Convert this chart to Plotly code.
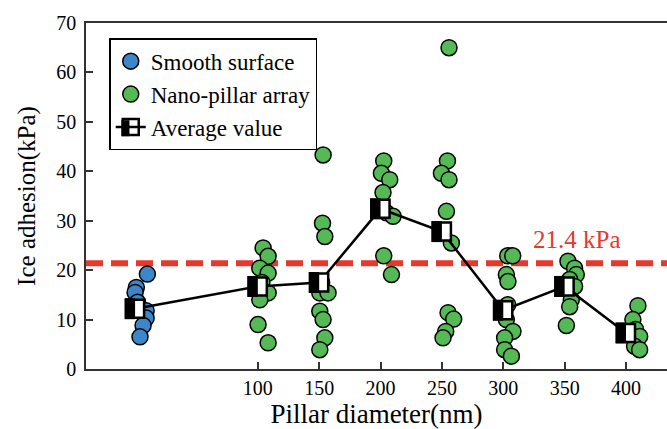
import plotly.graph_objects as go

# ---------------- data ----------------
smooth_x = [10, 1, 0, 2, 9, 9, 6.5, 4]
smooth_y = [19.2, 16.5, 15.5, 13.5, 11.8, 10.3, 8.8, 6.5]

nano_x_100 = [104.3, 108.4, 101.6, 108.4, 103.3, 108.4, 101.6, 100.2, 108.4]
nano_y_100 = [24.5, 22.8, 20.4, 19.4, 17.5, 15.4, 14.0, 9.0, 5.3]
nano_x_150 = [153.2, 152.7, 154.6, 152.0, 150.5, 157.2, 150.5, 153.2, 154.6, 150.5]
nano_y_150 = [43.3, 29.5, 26.8, 17.5, 15.4, 15.4, 11.7, 10.0, 6.3, 3.9]
nano_x_200 = [202.6, 200.7, 207.5, 202.0, 204.8, 210.2, 202.6, 208.9]
nano_y_200 = [42.1, 39.6, 38.3, 35.7, 31.6, 30.9, 22.9, 19.1]
nano_x_250 = [255.8, 254.5, 249.6, 255.8, 253.7, 257.7, 255.0, 259.6, 253.1, 250.9]
nano_y_250 = [65.0, 42.1, 39.6, 38.3, 31.9, 25.5, 11.4, 10.1, 7.6, 6.3]
nano_x_300 = [303.6, 307.7, 302.5, 303.8, 303.6, 302.5, 307.9, 301.1, 301.1, 306.6]
nano_y_300 = [22.9, 22.9, 19.1, 17.7, 13.0, 10.0, 7.6, 6.3, 3.9, 2.6]
nano_x_350 = [352.7, 358.1, 359.5, 354.1, 358.1, 355.4, 354.1, 351.4]
nano_y_350 = [21.8, 20.4, 19.1, 18.1, 16.7, 14.0, 12.6, 8.8]
nano_x_400 = [409.7, 405.6, 407.8, 411.1, 407.0, 411.1]
nano_y_400 = [12.8, 10.0, 8.0, 6.6, 4.6, 3.9]

avg_x = [0, 100, 150, 200, 250, 300, 350, 400]
avg_y = [12.2, 16.7, 17.5, 32.4, 27.8, 11.9, 16.7, 7.3]

threshold = 21.4
x_tick_vals = [100, 150, 200, 250, 300, 350, 400]
y_tick_vals = [0, 10, 20, 30, 40, 50, 60, 70]

# ---------------- styles ----------------
FONT = "Times New Roman, Liberation Serif, DejaVu Serif, serif"
BLUE = "#3b87c9"
GREEN = "#55b955"
RED = "#e5392c"
W, H = 667, 429
LEG_FONT = 23

nano_x = nano_x_100 + nano_x_150 + nano_x_200 + nano_x_250 + nano_x_300 + nano_x_350 + nano_x_400
nano_y = nano_y_100 + nano_y_150 + nano_y_200 + nano_y_250 + nano_y_300 + nano_y_350 + nano_y_400

fig = go.Figure()

fig.add_trace(go.Scatter(
    x=smooth_x, y=smooth_y, mode="markers", name="Smooth surface",
    marker=dict(size=16, color=BLUE, line=dict(color="black", width=1.5)),
))
fig.add_trace(go.Scatter(
    x=nano_x, y=nano_y, mode="markers", name="Nano-pillar array",
    marker=dict(size=16, color=GREEN, line=dict(color="black", width=1.5)),
))
fig.add_trace(go.Scatter(
    x=avg_x, y=avg_y, mode="lines+markers", name="Average value", showlegend=False,
    line=dict(color="black", width=2.5),
    marker=dict(symbol="square", size=18, color="white", line=dict(color="black", width=2.5)),
))
# legend entry for the average markers (transparent fill so the half-black swatch shows)
fig.add_trace(go.Scatter(
    x=[None], y=[None], mode="lines+markers", name="Average value",
    line=dict(color="black", width=2.5),
    marker=dict(symbol="square", size=16, color="rgba(255,255,255,0)", line=dict(color="black", width=2.5)),
))

# left black half of each average marker
for xv, yv in zip(avg_x, avg_y):
    fig.add_shape(type="rect", xref="x", yref="y",
                  xsizemode="pixel", ysizemode="pixel",
                  xanchor=xv, yanchor=yv, x0=-10.5, x1=0, y0=-10.5, y1=10.5,
                  fillcolor="black", line=dict(width=0), layer="above")

# half-black / half-white swatch under the legend symbol
leg_x = 0.04
leg_y = 0.956
leg_sym_x = 0.0748
leg_sym_y = 0.696
fig.add_shape(type="rect", xref="paper", yref="paper", xsizemode="pixel", ysizemode="pixel",
              xanchor=leg_sym_x, yanchor=leg_sym_y, x0=0, x1=8, y0=-8, y1=8,
              fillcolor="white", line=dict(width=0), layer="above")
fig.add_shape(type="rect", xref="paper", yref="paper", xsizemode="pixel", ysizemode="pixel",
              xanchor=leg_sym_x, yanchor=leg_sym_y, x0=-8, x1=0, y0=-8, y1=8,
              fillcolor="black", line=dict(width=0), layer="above")

# threshold line
fig.add_shape(type="line", xref="paper", yref="y", x0=0, x1=1, y0=threshold, y1=threshold,
              line=dict(color=RED, width=6, dash="17px,8px"), layer="below")
fig.add_annotation(x=360, y=threshold, xref="x", yref="y", text=f"{threshold} kPa",
                   showarrow=False, yanchor="bottom", yshift=8,
                   font=dict(family=FONT, size=25, color=RED))

fig.update_layout(
    width=W, height=H,
    margin=dict(l=86, r=0, t=23, b=60),
    plot_bgcolor="white", paper_bgcolor="white",
    font=dict(family=FONT, size=20, color="black"),
    showlegend=True,
    legend=dict(x=leg_x, y=leg_y, xanchor="left", yanchor="top",
                bgcolor="rgba(255,255,255,0)", bordercolor="black", borderwidth=1.5,
                font=dict(family=FONT, size=LEG_FONT, color="black"),
                tracegroupgap=0, itemwidth=30, entrywidth=190, entrywidthmode="pixels"),
)
fig.update_xaxes(
    range=[-40, 433.4], tickvals=x_tick_vals, ticks="inside", ticklen=7, tickwidth=1.5,
    tickcolor="#333", showline=True, linecolor="#333", linewidth=1.5, mirror=True,
    showgrid=False, zeroline=False,
    title=dict(text="Pillar diameter(nm)", font=dict(family=FONT, size=27), standoff=4),
    tickfont=dict(family=FONT, size=20),
)
fig.update_yaxes(
    range=[0, 70], tickvals=y_tick_vals, ticks="inside", ticklen=7, tickwidth=1.5,
    tickcolor="#333", showline=True, linecolor="#333", linewidth=1.5,
    showgrid=False, zeroline=False, ticklabelstandoff=4,
    title=dict(text="Ice adhesion(kPa)", font=dict(family=FONT, size=25), standoff=14),
    tickfont=dict(family=FONT, size=20),
)

fig.write_html("out.html")
